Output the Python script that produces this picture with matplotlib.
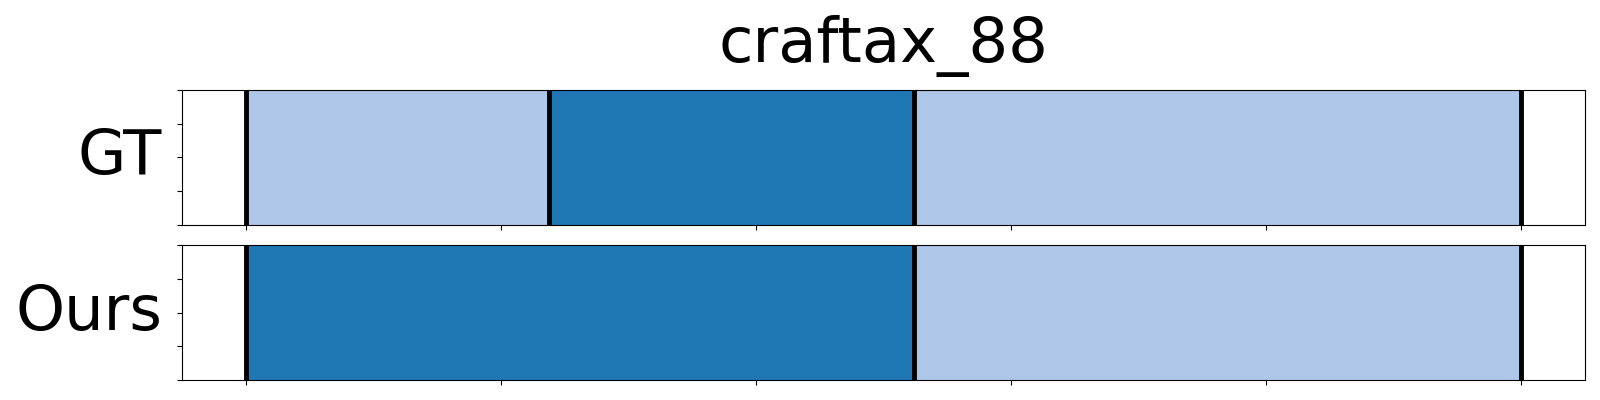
import matplotlib.pyplot as plt

title = "craftax_88"
rows = ["GT", "Ours"]
# segment boundaries (frame index) and the colour class of each segment
gt_bounds = [0, 23.8, 52.4, 100]
gt_labels = [0, 1, 0]
ours_bounds = [0, 52.4, 100]
ours_labels = [1, 0]
palette = ["#aec7e8", "#1f77b4"]

fig, axes = plt.subplots(2, 1, figsize=(16, 4), dpi=100, sharex=True)
fig.subplots_adjust(left=0.1136, right=0.9906, top=0.775, bottom=0.05, hspace=0.155)

for ax, name, bounds, labels in zip(axes, rows, [gt_bounds, ours_bounds], [gt_labels, ours_labels]):
    for i, lab in enumerate(labels):
        ax.axvspan(bounds[i], bounds[i + 1], color=palette[lab], lw=0)
    for b in bounds:
        ax.axvline(b, color="black", lw=3.5)
    ax.set_ylim(0, 1)
    ax.set_yticks([0, 0.25, 0.5, 0.75, 1])
    ax.set_yticklabels([])
    ax.set_xticks([0, 20, 40, 60, 80, 100])
    ax.set_xticklabels([])
    ax.set_ylabel(name, fontsize=45, rotation=0, ha="right", va="center", labelpad=7)

axes[0].set_xlim(-5, 105)
axes[0].set_title(title, fontsize=45, pad=20)

plt.savefig("out.png")
